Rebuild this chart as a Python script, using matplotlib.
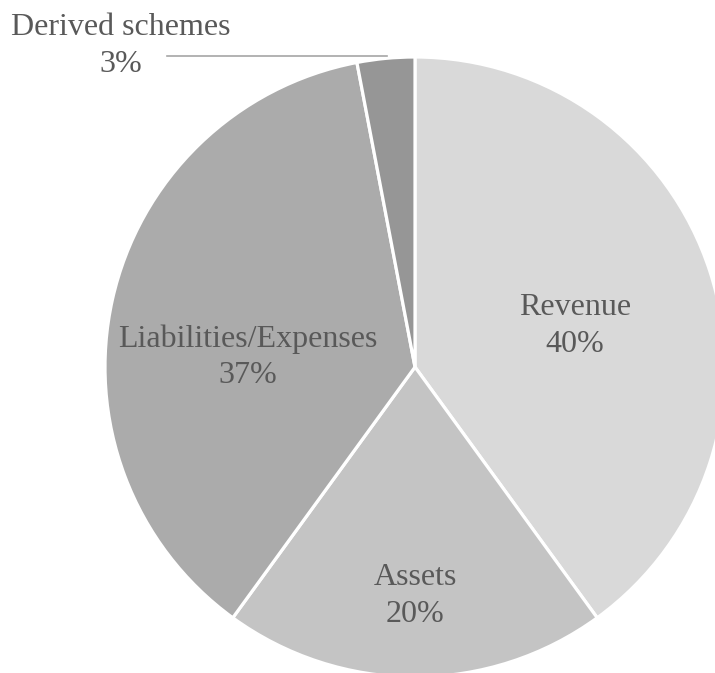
import matplotlib.pyplot as plt

categories = ["Revenue", "Assets", "Liabilities/Expenses", "Derived schemes"]
shares = [40, 20, 37, 3]
colors = ["#d9d9d9", "#c4c4c4", "#ababab", "#969696"]

# label anchor points (pixel space of the canvas), one per slice
label_xy = [(575, 347), (415, 77), (248, 316), (121, 627)]

W, H = 715, 673
fig = plt.figure(figsize=(W / 100, H / 100), dpi=100)
ax = fig.add_axes([0, 0, 1, 1])

wedges, _ = ax.pie(shares, colors=colors, startangle=90, counterclock=False,
                   center=(415, 306), radius=310,
                   wedgeprops=dict(edgecolor="white", linewidth=2.3))

# pie() resets the limits, so set them afterwards
ax.set_xlim(0, W)
ax.set_ylim(0, H)
ax.set_aspect("equal")
ax.axis("off")

for name, val, (x, y) in zip(categories, shares, label_xy):
    ax.text(x, y, f"{name}\n{val}%", ha="center", va="center",
            multialignment="center", fontsize=23, color="#595959",
            family="Liberation Serif", linespacing=1.32)

# leader line for the small slice
ax.plot([167, 387], [617, 617], color="#a6a6a6", linewidth=1.2)

fig.savefig("out.png", dpi=100)
